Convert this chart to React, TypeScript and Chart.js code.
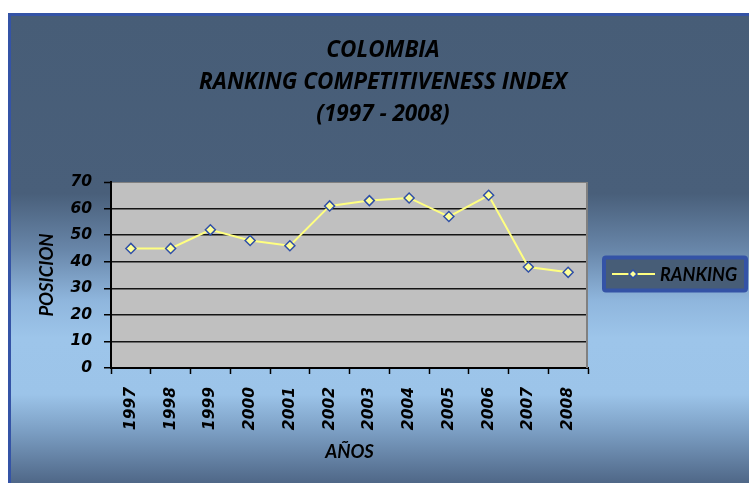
import React, { useEffect, useRef } from 'react';
import { Chart, registerables } from 'chart.js';

Chart.register(...registerables);

const years = ['1997', '1998', '1999', '2000', '2001', '2002', '2003', '2004', '2005', '2006', '2007', '2008'];
const ranking = [45, 45, 52, 48, 46, 61, 63, 64, 57, 65, 38, 36];
const yTicks = [0, 10, 20, 30, 40, 50, 60, 70];
const titleLines = ['COLOMBIA', 'RANKING COMPETITIVENESS INDEX', '(1997 - 2008)'];
const seriesLabel = 'RANKING';
const xTitle = 'AÑOS';
const yTitle = 'POSICION';

const TITLE_FONT = '"Open Sans", Lato, sans-serif';
const LEGEND_FONT = 'Lato, "Open Sans", sans-serif';
const TICK_FONT = '"DejaVu Sans", Verdana, sans-serif';
const LINE_COLOR = '#ffff80';
const MARKER_FILL = '#ffff99';
const MARKER_BORDER = '#2f4fa8';

const plotBackground = {
  id: 'plotBackground',
  beforeDraw(chart: any) {
    const { ctx, chartArea: a } = chart;
    ctx.save();
    ctx.fillStyle = '#c0c0c0';
    ctx.fillRect(a.left, a.top, a.right - a.left, a.bottom - a.top);
    ctx.restore();
  },
  beforeDatasetsDraw(chart: any) {
    const { ctx, chartArea: a } = chart;
    ctx.save();
    ctx.strokeStyle = '#808080';
    ctx.lineWidth = 2;
    ctx.beginPath();
    ctx.moveTo(a.right - 1, a.top);
    ctx.lineTo(a.right - 1, a.bottom);
    ctx.stroke();
    ctx.restore();
  },
};

const boxedLegend = {
  id: 'boxedLegend',
  afterDraw(chart: any) {
    const { ctx, chartArea: a } = chart;
    const ds = chart.data.datasets[0];
    const cy = (a.top + a.bottom) / 2 - 1;
    const bx = a.right + 16;
    const bw = 142;
    const bh = 33;
    const by = cy - bh / 2;
    ctx.save();
    ctx.fillStyle = '#475d77';
    ctx.strokeStyle = '#3453a6';
    ctx.lineWidth = 4;
    ctx.beginPath();
    if (ctx.roundRect) ctx.roundRect(bx, by, bw, bh, 2);
    else ctx.rect(bx, by, bw, bh);
    ctx.fill();
    ctx.stroke();
    // line sample
    ctx.strokeStyle = LINE_COLOR;
    ctx.lineWidth = 2;
    ctx.beginPath();
    ctx.moveTo(bx + 8, cy);
    ctx.lineTo(bx + 51, cy);
    ctx.stroke();
    // diamond marker
    const mx = bx + 29;
    const r = 4;
    ctx.fillStyle = MARKER_FILL;
    ctx.strokeStyle = MARKER_BORDER;
    ctx.lineWidth = 1.5;
    ctx.beginPath();
    ctx.moveTo(mx, cy - r);
    ctx.lineTo(mx + r, cy);
    ctx.lineTo(mx, cy + r);
    ctx.lineTo(mx - r, cy);
    ctx.closePath();
    ctx.fill();
    ctx.stroke();
    // text
    ctx.fillStyle = '#000';
    ctx.font = `italic bold 18px ${LEGEND_FONT}`;
    ctx.textBaseline = 'middle';
    ctx.textAlign = 'left';
    ctx.fillText(ds.label, bx + 56, cy + 1);
    ctx.restore();
  },
};

export default function App() {
  const ref = useRef<HTMLCanvasElement | null>(null);

  useEffect(() => {
    if (!ref.current) return;
    const chart = new Chart(ref.current, {
      type: 'line',
      data: {
        labels: years,
        datasets: [
          {
            label: seriesLabel,
            data: ranking,
            borderColor: LINE_COLOR,
            borderWidth: 2,
            pointStyle: 'rectRot',
            pointRadius: 5,
            pointHoverRadius: 5,
            pointBackgroundColor: MARKER_FILL,
            pointBorderColor: MARKER_BORDER,
            pointBorderWidth: 1.5,
            tension: 0,
            fill: false,
          },
        ],
      },
      options: {
        animation: false,
        responsive: false,
        maintainAspectRatio: false,
        layout: { padding: { left: 17, right: 0, top: 0, bottom: 0 } },
        plugins: {
          legend: { display: false },
          tooltip: { enabled: false },
          title: {
            display: true,
            text: titleLines,
            color: '#000',
            font: { family: TITLE_FONT, size: 22.5, weight: 'bold', style: 'italic', lineHeight: 32 / 22.5 },
            padding: { top: 35, bottom: 51 },
          },
        },
        scales: {
          x: {
            type: 'category',
            offset: true,
            grid: {
              display: true,
              offset: true,
              drawOnChartArea: false,
              drawTicks: true,
              tickLength: 6,
              tickColor: '#000',
              tickWidth: 1.5,
            },
            border: { display: true, color: '#000', width: 2 },
            ticks: {
              autoSkip: false,
              minRotation: 90,
              maxRotation: 90,
              padding: 13,
              color: '#000',
              font: { family: TICK_FONT, size: 15.5, weight: 'bold', style: 'italic' },
            },
            title: {
              display: true,
              text: xTitle,
              color: '#000',
              font: { family: LEGEND_FONT, size: 18.5, weight: 'bold', style: 'italic', lineHeight: 1.2 },
              padding: { top: 0, bottom: 20 },
            },
            afterFit: (s: any) => {
              s.height = 115;
            },
          },
          y: {
            type: 'linear',
            position: 'left',
            min: 0,
            max: 70,
            afterBuildTicks: (s: any) => {
              s.ticks = yTicks.map((v) => ({ value: v }));
            },
            grid: {
              color: (c: any) => (c.tick && c.tick.value === 70 ? '#808080' : '#141414'),
              lineWidth: (c: any) => (c.tick && c.tick.value === 70 ? 1 : 1.5),
              drawTicks: true,
              tickLength: 7,
              tickColor: '#000',
              tickWidth: 1.5,
            },
            border: { display: true, color: '#000', width: 2 },
            ticks: {
              padding: 12,
              color: '#000',
              font: { family: TICK_FONT, size: 15.5, weight: 'bold', style: 'italic' },
            },
            title: {
              display: true,
              text: yTitle,
              color: '#000',
              font: { family: LEGEND_FONT, size: 18.5, weight: 'bold', style: 'italic', lineHeight: 1.2 },
              padding: { top: 19, bottom: 0 },
            },
            afterFit: (s: any) => {
              s.width = 94;
            },
          },
          spacer: {
            type: 'linear',
            position: 'right',
            display: true,
            grid: { display: false, drawTicks: false },
            border: { display: false },
            ticks: { display: false },
            afterFit: (s: any) => {
              s.width = 161;
            },
          },
        },
      },
      plugins: [plotBackground, boxedLegend],
    } as any);
    return () => chart.destroy();
  }, []);

  return (
    <div
      style={{
        position: 'absolute',
        left: 0,
        top: 0,
        width: 749,
        height: 483,
        overflow: 'hidden',
        background: '#fff',
      }}
    >
      <div
        style={{
          position: 'absolute',
          left: 8,
          top: 13,
          width: 760,
          height: 470,
          boxSizing: 'border-box',
          borderTop: '3px solid #3453a6',
          borderLeft: '3px solid #3453a6',
          background:
            'linear-gradient(to bottom, #475d77 0%, #495f7a 38%, #6886a9 50%, #8fb6dd 61%, #9dc5ea 69%, #9cc4e9 81%, #7b9ec3 89%, #4f6787 100%)',
        }}
      />
      <canvas
        ref={ref}
        width={749}
        height={483}
        style={{ position: 'absolute', left: 0, top: 0, width: 749, height: 483 }}
      />
    </div>
  );
}
